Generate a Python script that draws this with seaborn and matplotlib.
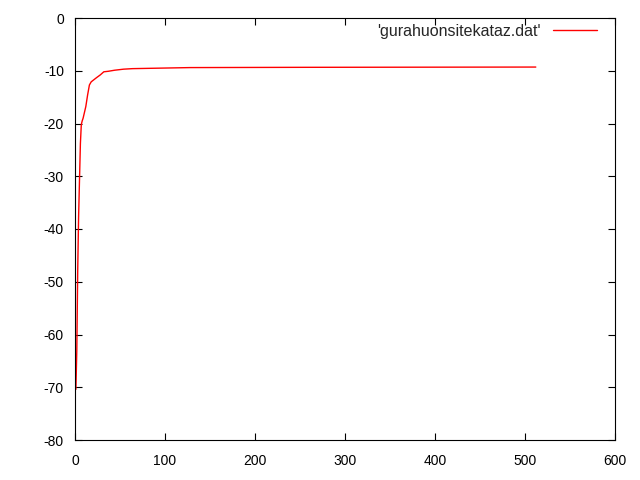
import matplotlib
matplotlib.use("Agg")
import matplotlib.pyplot as plt
import pandas as pd
import seaborn as sns

# values
x_vals = [1, 2, 3, 4, 5, 6, 7, 8, 9, 12, 14, 16, 18, 24, 28, 32, 37, 44, 54, 64, 96, 128, 256, 512]
y_vals = [-70.4, -63, -48, -37.7, -30.7, -23.8, -20.2, -19.5, -19, -16.8, -14.6, -12.7,
          -12.1, -11.3, -10.8, -10.2, -10.1, -9.9, -9.7, -9.6, -9.5, -9.4, -9.35, -9.3]
series_name = "'gurahuonsitekataz.dat'"

x_ticks = [0, 100, 200, 300, 400, 500, 600]
y_ticks = [0, -10, -20, -30, -40, -50, -60, -70, -80]

df = pd.DataFrame({"x": x_vals, "y": y_vals, "series": series_name})

sns.set_style("ticks")
plt.rcParams["font.family"] = ["Liberation Sans", "DejaVu Sans"]
plt.rcParams["axes.unicode_minus"] = False

fig = plt.figure(figsize=(6.4, 4.8), dpi=100)
ax = fig.add_axes([75 / 640, 40 / 480, 540 / 640, 422 / 480])

sns.lineplot(data=df, x="x", y="y", hue="series", palette=["#ff0000"],
             linewidth=1.0, ax=ax, estimator=None, sort=False)

ax.set_xlim(0, 600)
ax.set_ylim(-80, 0)
ax.set_xticks(x_ticks)
ax.set_yticks(y_ticks)
ax.set_xlabel("")
ax.set_ylabel("")
ax.tick_params(direction="in", top=True, right=True, length=5, width=0.8,
               labelsize=10, colors="black")
ax.tick_params(axis="x", pad=10)
ax.tick_params(axis="y", pad=8)
for s in ax.spines.values():
    s.set_color("black")
    s.set_linewidth(0.8)

ax.legend(loc="center right", bbox_to_anchor=(0.966, 0.969), frameon=False,
          markerfirst=False, fontsize=11.5, handlelength=2.75,
          borderaxespad=0, borderpad=0, handletextpad=0.75)

fig.savefig("out.png", dpi=100)
